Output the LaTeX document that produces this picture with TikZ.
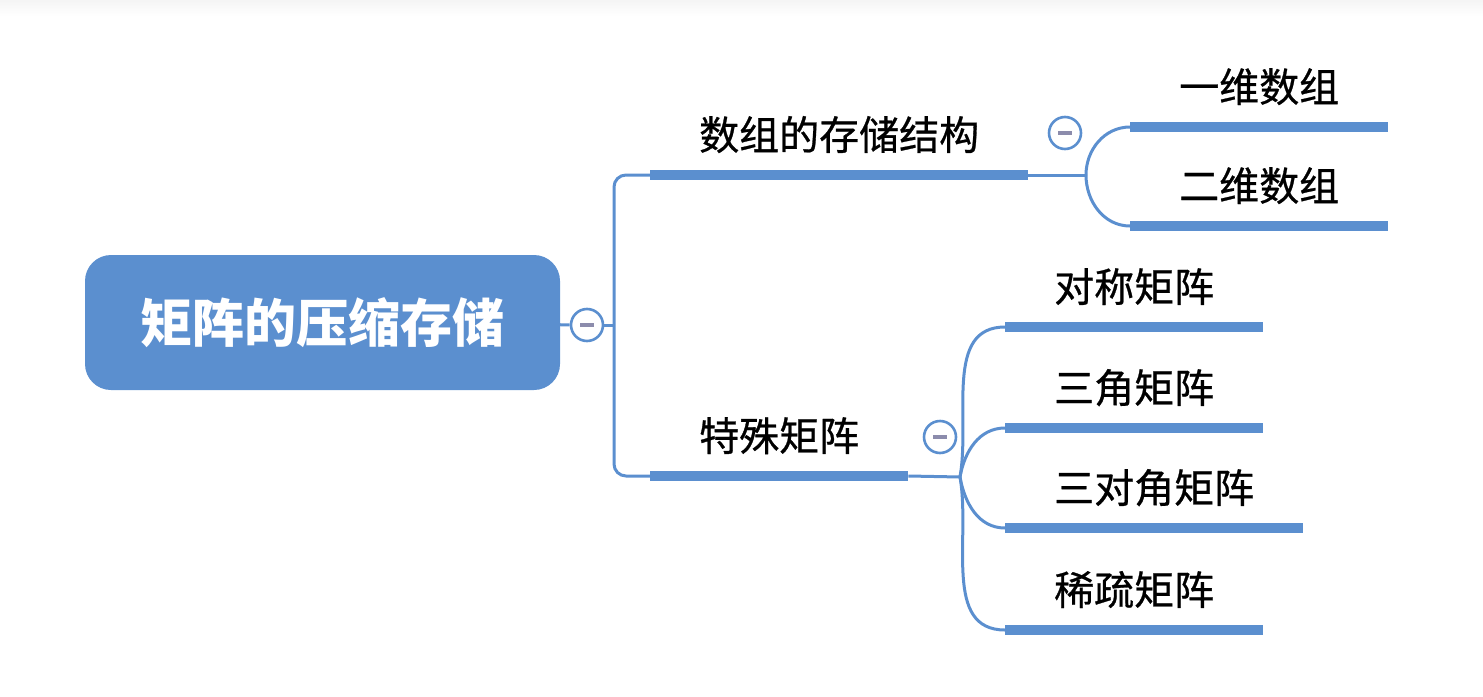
\documentclass[tikz,border=0pt]{standalone}
\usepackage{fontspec}
\newfontfamily\cjk{Noto Sans CJK SC}
\newfontfamily\cjkm{Noto Sans CJK SC}[FakeBold=0.7]
\usepackage{tikz}
\definecolor{mblue}{RGB}{91,143,207}
\definecolor{mgray}{RGB}{140,140,172}

\begin{document}
\begin{tikzpicture}[x=1pt,y=1pt,
  link/.style={draw=mblue,line width=3pt},
  bar/.style={draw=mblue,line width=10pt},
  root/.style={fill=mblue,rounded corners=26pt,minimum width=475pt,minimum height=135pt,
    text=white,font=\cjk\bfseries\fontsize{52}{60}\selectfont},
  topic/.style={anchor=south west,inner xsep=49pt,inner ysep=0pt,text height=30pt,text depth=25pt,
    font=\cjkm\fontsize{40}{48}\selectfont},
  toggle/.style={circle,draw=mblue,line width=2.6pt,fill=white,minimum size=32pt,inner sep=0pt,
    path picture={\draw[mgray,line width=3.5pt]
      ([xshift=-7pt]path picture bounding box.center) -- ([xshift=7pt]path picture bounding box.center);}}]

\useasboundingbox (0,0) rectangle (1483,-696);
\shade[top color=black!4,bottom color=white] (0,0) rectangle (1483,-16);

% root
\node[root] (root) at (322.5,-322.5) {矩阵的压缩存储};
\node[toggle] (c0) at (587,-325) {};
\coordinate (trunk) at (614,-325);

% first level
\node[topic] (arr) at (650,-175) {数组的存储结构};
\node[topic] (spe) at (650,-476) {特殊矩阵};
\draw[bar] (arr.south west) -- (arr.south east);
\draw[bar] (spe.south west) -- (spe.south east);

\draw[link] (root) -- (c0);
\draw[link] (c0) -- (trunk);
\draw[link,rounded corners=12pt] (arr.south west) -| (trunk) |- (spe.south west);

% arrays
\node[topic] (one) at (1130,-127) {一维数组};
\node[topic] (two) at (1130,-226) {二维数组};
\coordinate (f1) at (1086,-175);
\draw[link] (arr.south east) -- (f1);
\draw[link] (f1) to[out=90,in=180] (one.south west);
\draw[link] (f1) to[out=-90,in=180] (two.south west);
\foreach \n in {one,two}
  \draw[bar] (\n.south west) -- (\n.south east);
\node[toggle] (c1) at (1065,-133) {};

% special matrices
\node[topic] (sym) at (1005,-327) {对称矩阵};
\node[topic] (tri) at (1005,-428) {三角矩阵};
\node[topic] (tdg) at (1005,-528) {三对角矩阵};
\node[topic] (spa) at (1005,-630) {稀疏矩阵};
\coordinate (f2) at (960,-477);
\draw[link] (spe.south east) -- (f2);
\draw[link] (f2) to[out=80,in=180] (sym.south west);
\draw[link] (f2) to[out=80,in=180] (tri.south west);
\draw[link] (f2) to[out=-80,in=180] (tdg.south west);
\draw[link] (f2) to[out=-80,in=180] (spa.south west);
\foreach \n in {sym,tri,tdg,spa}
  \draw[bar] (\n.south west) -- (\n.south east);
\node[toggle] (c2) at (940,-437) {};

\end{tikzpicture}
\end{document}
